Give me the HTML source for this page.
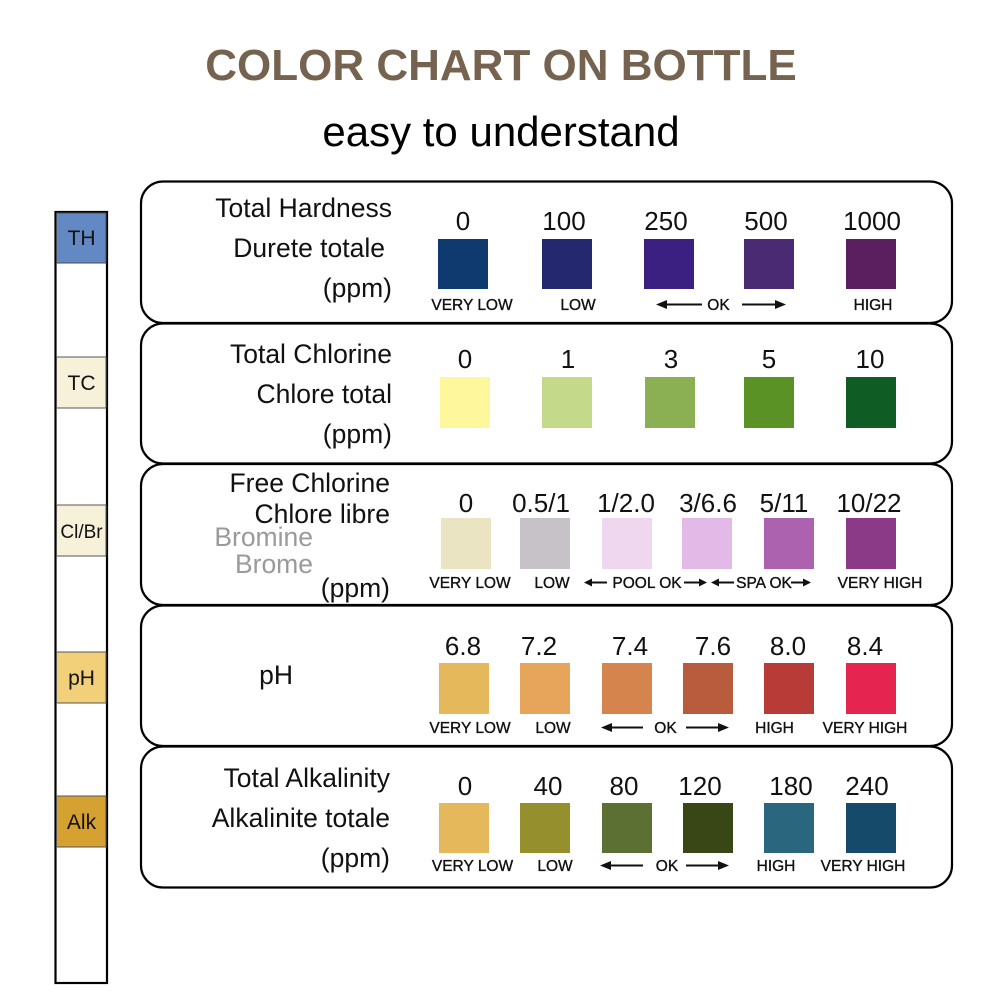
<!DOCTYPE html>
<html>
<head>
<meta charset="utf-8">
<style>
html,body{margin:0;padding:0;background:#fff;}
svg{display:block;}
text{font-family:"Liberation Sans",Arial,sans-serif;}
</style>
</head>
<body>
<svg width="1001" height="1001" viewBox="0 0 1001 1001" xmlns="http://www.w3.org/2000/svg">
<rect x="0" y="0" width="1001" height="1001" fill="#fff"/>

<!-- Title -->
<text x="501" y="80" text-anchor="middle" font-size="44" font-weight="bold" fill="#75634f">COLOR CHART ON BOTTLE</text>
<text x="501" y="146" text-anchor="middle" font-size="42" fill="#000">easy to understand</text>

<!-- Left strip -->
<rect x="55.5" y="212" width="51.5" height="771" fill="#fff" stroke="#000" stroke-width="2.2"/>
<rect x="56.5" y="213" width="49.5" height="50" fill="#6389c4" stroke="#4a4a4a" stroke-width="1"/>
<rect x="56.5" y="357" width="49.5" height="51" fill="#f7f1d9" stroke="#555" stroke-width="1"/>
<rect x="56.5" y="505" width="49.5" height="51" fill="#f7f1d9" stroke="#555" stroke-width="1"/>
<rect x="56.5" y="652" width="49.5" height="51" fill="#f2cf79" stroke="#555" stroke-width="1"/>
<rect x="56.5" y="796" width="49.5" height="51" fill="#d5a131" stroke="#555" stroke-width="1"/>
<g font-size="21" fill="#111" text-anchor="middle">
<text x="81.5" y="245">TH</text>
<text x="81.5" y="390">TC</text>
<text x="81.5" y="538" font-size="19">Cl/Br</text>
<text x="81.5" y="685">pH</text>
<text x="81.5" y="829">Alk</text>
</g>

<!-- Panels -->
<g fill="none" stroke="#000" stroke-width="2.2">
<rect x="141" y="181.5" width="811" height="141.5" rx="22" ry="22"/>
<rect x="141" y="323.5" width="811" height="140" rx="22" ry="22"/>
<rect x="141" y="464" width="811" height="141" rx="22" ry="22"/>
<rect x="141" y="605.5" width="811" height="140.5" rx="22" ry="22"/>
<rect x="141" y="746.5" width="811" height="141" rx="22" ry="22"/>
</g>

<!-- Left labels -->
<g font-size="26.5" fill="#111" text-anchor="end">
<text x="392" y="217">Total Hardness</text>
<text x="385" y="257">Durete totale</text>
<text x="392" y="297">(ppm)</text>

<text x="392" y="363">Total Chlorine</text>
<text x="392" y="403">Chlore total</text>
<text x="392" y="443">(ppm)</text>

<text x="390" y="492">Free Chlorine</text>
<text x="390" y="523">Chlore libre</text>
<text x="313" y="546" fill="#9a9a9a">Bromine</text>
<text x="313" y="573" fill="#9a9a9a">Brome</text>
<text x="390" y="597">(ppm)</text>

<text x="293" y="684">pH</text>

<text x="390" y="787">Total Alkalinity</text>
<text x="390" y="827">Alkalinite totale</text>
<text x="390" y="867">(ppm)</text>
</g>

<!-- Values -->
<g font-size="26" fill="#111" text-anchor="middle">
<text x="463" y="230">0</text>
<text x="564" y="230">100</text>
<text x="666" y="230">250</text>
<text x="766" y="230">500</text>
<text x="872" y="230">1000</text>

<text x="465" y="368">0</text>
<text x="568" y="368">1</text>
<text x="671" y="368">3</text>
<text x="769" y="368">5</text>
<text x="870" y="368">10</text>

<text x="466" y="512">0</text>
<text x="541" y="512">0.5/1</text>
<text x="626" y="512">1/2.0</text>
<text x="708" y="512">3/6.6</text>
<text x="784" y="512">5/11</text>
<text x="869" y="512">10/22</text>

<text x="463" y="655">6.8</text>
<text x="539" y="655">7.2</text>
<text x="630" y="655">7.4</text>
<text x="713" y="655">7.6</text>
<text x="788" y="655">8.0</text>
<text x="865" y="655">8.4</text>

<text x="465" y="795">0</text>
<text x="548" y="795">40</text>
<text x="624" y="795">80</text>
<text x="700" y="795">120</text>
<text x="791" y="795">180</text>
<text x="867" y="795">240</text>
</g>

<!-- Swatches -->
<g>
<rect x="438" y="239" width="50" height="50" fill="#0e3a70"/>
<rect x="542" y="239" width="50" height="50" fill="#23286f"/>
<rect x="644" y="239" width="50" height="50" fill="#3b1f81"/>
<rect x="744" y="239" width="50" height="50" fill="#4a2a73"/>
<rect x="846" y="239" width="50" height="50" fill="#5b1f5f"/>

<rect x="440" y="377" width="50" height="51" fill="#fff79b"/>
<rect x="542" y="377" width="50" height="51" fill="#c5d98a"/>
<rect x="645" y="377" width="50" height="51" fill="#8bb054"/>
<rect x="744" y="377" width="50" height="51" fill="#5a9225"/>
<rect x="846" y="377" width="50" height="51" fill="#0f5c24"/>

<rect x="441" y="518" width="50" height="51" fill="#ebe4c3"/>
<rect x="520" y="518" width="50" height="51" fill="#c6c2c8"/>
<rect x="602" y="518" width="50" height="51" fill="#efd7ef"/>
<rect x="682" y="518" width="50" height="51" fill="#e3b9e7"/>
<rect x="764" y="518" width="50" height="51" fill="#ad62b0"/>
<rect x="846" y="518" width="50" height="51" fill="#8b3a88"/>

<rect x="439" y="663" width="50" height="51" fill="#e5b95b"/>
<rect x="520" y="663" width="50" height="51" fill="#e6a55a"/>
<rect x="602" y="663" width="50" height="51" fill="#d6844d"/>
<rect x="683" y="663" width="50" height="51" fill="#b95c3e"/>
<rect x="764" y="663" width="50" height="51" fill="#b83b37"/>
<rect x="846" y="663" width="50" height="51" fill="#e62450"/>

<rect x="439" y="803" width="50" height="50" fill="#e5b95b"/>
<rect x="520" y="803" width="50" height="50" fill="#968f2e"/>
<rect x="602" y="803" width="50" height="50" fill="#5d7033"/>
<rect x="683" y="803" width="50" height="50" fill="#394616"/>
<rect x="764" y="803" width="50" height="50" fill="#2a677f"/>
<rect x="846" y="803" width="50" height="50" fill="#164a6a"/>
</g>

<!-- Bottom labels -->
<g font-size="15.5" fill="#111" stroke="#111" stroke-width="0.35" text-anchor="middle">
<text x="472" y="310">VERY LOW</text>
<text x="578" y="310">LOW</text>
<text x="718.5" y="310">OK</text>
<text x="873" y="310">HIGH</text>

<text x="470" y="588">VERY LOW</text>
<text x="552" y="588">LOW</text>
<text x="647" y="588">POOL OK</text>
<text x="764" y="588">SPA OK</text>
<text x="880" y="588">VERY HIGH</text>

<text x="470" y="733">VERY LOW</text>
<text x="553" y="733">LOW</text>
<text x="665.5" y="733">OK</text>
<text x="774.5" y="733">HIGH</text>
<text x="865" y="733">VERY HIGH</text>

<text x="472.5" y="871">VERY LOW</text>
<text x="555" y="871">LOW</text>
<text x="667" y="871">OK</text>
<text x="776" y="871">HIGH</text>
<text x="863" y="871">VERY HIGH</text>
</g>

<!-- Arrows -->
<g stroke="#111" stroke-width="2" fill="#111">
<line x1="664" y1="304.5" x2="702" y2="304.5"/>
<polygon points="656,304.5 667,300 667,309" stroke="none"/>
<line x1="742" y1="304.5" x2="778" y2="304.5"/>
<polygon points="786,304.5 775,300 775,309" stroke="none"/>

<line x1="590" y1="582.5" x2="607" y2="582.5"/>
<polygon points="584,582.5 592,578.5 592,586.5" stroke="none"/>
<line x1="684" y1="582.5" x2="701" y2="582.5"/>
<polygon points="707,582.5 699,578.5 699,586.5" stroke="none"/>
<line x1="717" y1="582.5" x2="734" y2="582.5"/>
<polygon points="711,582.5 719,578.5 719,586.5" stroke="none"/>
<line x1="791" y1="582.5" x2="805" y2="582.5"/>
<polygon points="811,582.5 803,578.5 803,586.5" stroke="none"/>

<line x1="609" y1="727.5" x2="643" y2="727.5"/>
<polygon points="601,727.5 612,723 612,732" stroke="none"/>
<line x1="686" y1="727.5" x2="721" y2="727.5"/>
<polygon points="729,727.5 718,723 718,732" stroke="none"/>

<line x1="608" y1="865.5" x2="643" y2="865.5"/>
<polygon points="600,865.5 611,861 611,870" stroke="none"/>
<line x1="686" y1="865.5" x2="721" y2="865.5"/>
<polygon points="729,865.5 718,861 718,870" stroke="none"/>
</g>
</svg>
</body>
</html>
